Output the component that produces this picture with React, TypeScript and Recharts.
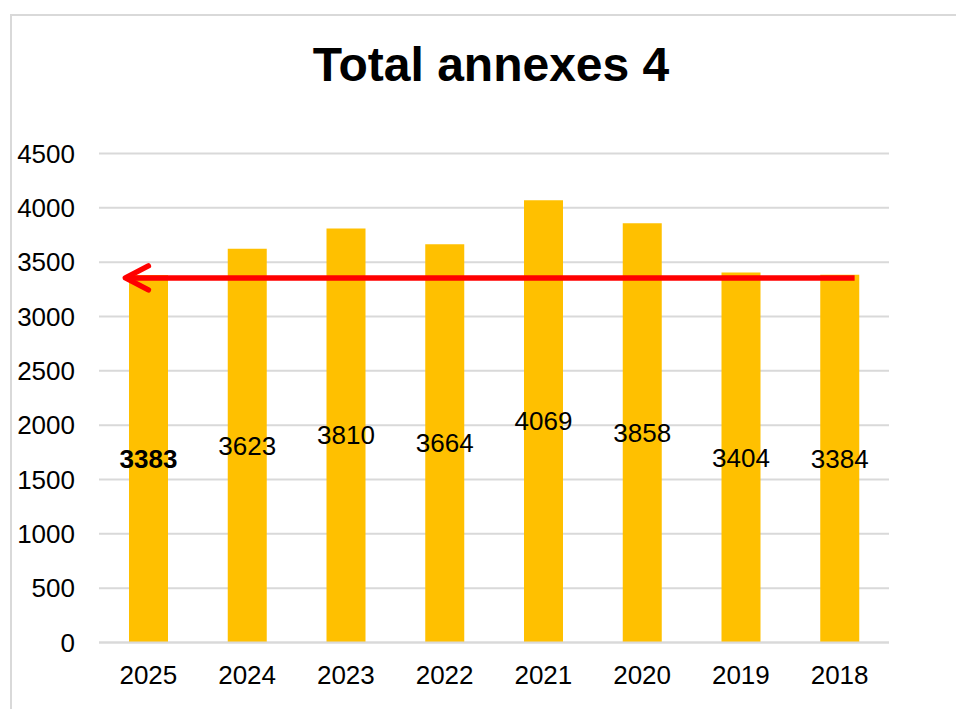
import React from 'react';
import { BarChart, Bar, XAxis, YAxis, CartesianGrid, LabelList, ReferenceLine } from 'recharts';

const years = ['2025', '2024', '2023', '2022', '2021', '2020', '2019', '2018'];
const totals = [3383, 3623, 3810, 3664, 4069, 3858, 3404, 3384];
const yTicks = [0, 500, 1000, 1500, 2000, 2500, 3000, 3500, 4000, 4500];
const highlightYear = '2025';
const arrowLevel = 3355;

const data = years.map((year, i) => ({ year, total: totals[i] }));

const FONT = '"Liberation Sans", Arial, sans-serif';
const GRID = '#d9d9d9';

const ValueLabel = (props: any) => {
  const { x, y, width, height, value, index } = props;
  const bold = years[index] === highlightYear;
  return (
    <text
      x={x + width / 2}
      y={y + height / 2}
      textAnchor="middle"
      dominantBaseline="central"
      fontSize={26}
      fontFamily={FONT}
      fontWeight={bold ? 700 : 400}
      fill="#000"
    >
      {value}
    </text>
  );
};

// red arrow pointing back to the first year
const Arrow = (props: any) => {
  const { x1, y1, x2 } = props;
  const tip = x1 - 23;
  return (
    <g>
      <line x1={tip + 2} y1={y1} x2={x2 + 15} y2={y1} stroke="#ff0000" strokeWidth={5.5} />
      <path
        d={`M${tip + 23},${y1 - 12} L${tip},${y1} L${tip + 23},${y1 + 12}`}
        fill="none"
        stroke="#ff0000"
        strokeWidth={5.5}
        strokeLinecap="round"
        strokeLinejoin="round"
      />
    </g>
  );
};

export default function App() {
  return (
    <div style={{ position: 'fixed', left: 0, top: 0, width: 956, height: 709, overflow: 'hidden', background: '#fff' }}>
      <div
        style={{
          position: 'absolute',
          left: 10,
          top: 14,
          width: 2000,
          height: 2000,
          border: `2px solid ${GRID}`,
        }}
      />
      <div
        style={{
          position: 'absolute',
          left: 0,
          top: 40.5,
          width: 982,
          textAlign: 'center',
          fontFamily: FONT,
          fontWeight: 700,
          fontSize: 48,
          lineHeight: '48px',
          color: '#000',
        }}
      >
        Total annexes 4
      </div>
      <div style={{ position: 'absolute', left: 0, top: 0 }}>
        <BarChart
          width={956}
          height={709}
          data={data}
          margin={{ top: 153.5, right: 67, bottom: 36.5, left: 0 }}
        >
          <CartesianGrid vertical={false} stroke={GRID} strokeWidth={2} />
          <XAxis
            dataKey="year"
            height={30}
            axisLine={{ stroke: GRID, strokeWidth: 2 }}
            tickLine={false}
            tickMargin={17}
            tick={{ fontSize: 26, fontFamily: FONT, fill: '#000' }}
          />
          <YAxis
            width={99}
            domain={[0, 4500]}
            ticks={yTicks}
            axisLine={false}
            tickLine={false}
            tickMargin={18}
            tick={{ fontSize: 26, fontFamily: FONT, fill: '#000' }}
          />
          <Bar dataKey="total" fill="#ffc000" barSize={39} isAnimationActive={false}>
            <LabelList dataKey="total" content={<ValueLabel />} />
          </Bar>
          <ReferenceLine
            segment={[
              { x: years[0], y: arrowLevel },
              { x: years[years.length - 1], y: arrowLevel },
            ]}
            shape={<Arrow />}
          />
        </BarChart>
      </div>
    </div>
  );
}
